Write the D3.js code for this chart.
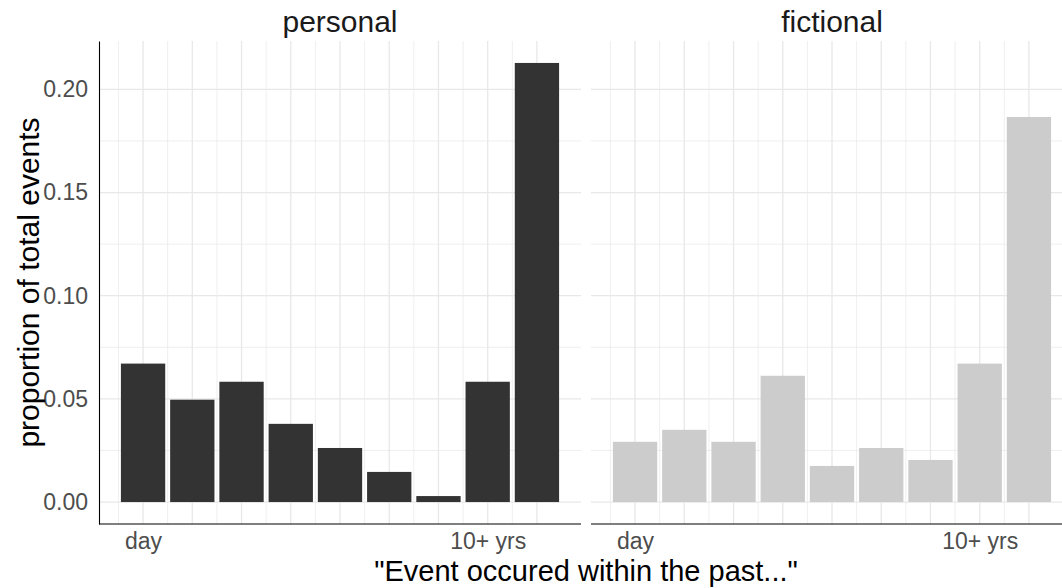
<!DOCTYPE html>
<html>
<head>
<meta charset="utf-8">
<script src="https://cdn.jsdelivr.net/npm/d3@7"></script>
<style>
  html, body { margin: 0; padding: 0; background: #ffffff; }
  svg { display: block; }
  text { font-family: "Liberation Sans", Arial, sans-serif; }
</style>
</head>
<body>
<svg id="chart" width="1062" height="588"></svg>
<script>
// ---- data ----
const categories = [1, 2, 3, 4, 5, 6, 7, 8, 9];
const panels = ["personal", "fictional"];
const personalValues = [0.0671, 0.0496, 0.0583, 0.0379, 0.0262, 0.0146, 0.0029, 0.0583, 0.2128];
const fictionalValues = [0.0292, 0.0350, 0.0292, 0.0612, 0.0175, 0.0262, 0.0204, 0.0671, 0.1866];
const xTickValues = [1, 8];
const xTickLabels = ["day", "10+ yrs"];
const yTickValues = [0, 0.05, 0.10, 0.15, 0.20];
const yMinorValues = [0.025, 0.075, 0.125, 0.175];
const xMajorGrid = [1, 2, 3, 4, 5, 6, 7, 8, 9];
const xMinorGrid = [0.5, 1.5, 2.5, 3.5, 4.5, 5.5, 6.5, 7.5, 8.5];
const seriesValues = { personal: personalValues, fictional: fictionalValues };
const barColors = { personal: "#333333", fictional: "#cccccc" };

const svg = d3.select("#chart");

// ---- layout ----
const panelTop = 41, panelBottom = 524;
const panelRanges = { personal: [99, 581], fictional: [591, 1073] };

const yMax = d3.max(personalValues.concat(fictionalValues));
const yPad = yMax * 0.05;
const y = d3.scaleLinear().domain([-yPad, yMax + yPad]).range([panelBottom, panelTop]);

const barW = 0.9;
const xPad = (categories.length - 1 + barW) * 0.05;
const xDomain = [categories[0] - barW / 2 - xPad, categories[categories.length - 1] + barW / 2 + xPad];

const fmt = d3.format(".2f");

panels.forEach(p => {
  const x = d3.scaleLinear().domain(xDomain).range(panelRanges[p]);
  const [x0, x1] = panelRanges[p];
  const g = svg.append("g");

  // grid: minor horizontal
  g.selectAll(".hmin").data(yMinorValues).enter().append("line")
    .attr("x1", x0).attr("x2", x1)
    .attr("y1", d => y(d)).attr("y2", d => y(d))
    .attr("stroke", "#ebebeb").attr("stroke-width", 0.8);
  // grid: major horizontal
  g.selectAll(".hmaj").data(yTickValues).enter().append("line")
    .attr("x1", x0).attr("x2", x1)
    .attr("y1", d => y(d)).attr("y2", d => y(d))
    .attr("stroke", "#e8e8e8").attr("stroke-width", 1.3);
  // grid: minor vertical
  g.selectAll(".vmin").data(xMinorGrid).enter().append("line")
    .attr("x1", d => x(d)).attr("x2", d => x(d))
    .attr("y1", panelTop).attr("y2", panelBottom)
    .attr("stroke", "#ebebeb").attr("stroke-width", 0.8);
  // grid: major vertical
  g.selectAll(".vmaj").data(xMajorGrid).enter().append("line")
    .attr("x1", d => x(d)).attr("x2", d => x(d))
    .attr("y1", panelTop).attr("y2", panelBottom)
    .attr("stroke", "#e8e8e8").attr("stroke-width", 1.3);

  // bars
  g.selectAll(".bar").data(categories).enter().append("rect")
    .attr("x", d => x(d - barW / 2))
    .attr("width", d => x(d + barW / 2) - x(d - barW / 2))
    .attr("y", (d, i) => y(seriesValues[p][i]))
    .attr("height", (d, i) => y(0) - y(seriesValues[p][i]))
    .attr("fill", barColors[p]);

  // x axis
  const xAxis = d3.axisBottom(x)
    .tickValues(xTickValues)
    .tickFormat((d, i) => xTickLabels[i])
    .tickSizeInner(0).tickSizeOuter(0).tickPadding(9);
  const gx = g.append("g").attr("transform", `translate(0,${panelBottom})`).call(xAxis);
  gx.select(".domain").attr("stroke", "#000").attr("stroke-width", 1.1)
    .attr("d", `M${x0},0H${Math.min(x1, 1062)}`);
  gx.selectAll("text").attr("font-size", 23).attr("fill", "#4d4d4d")
    .attr("font-family", "Liberation Sans, Arial, sans-serif");

  // strip title
  svg.append("text")
    .attr("x", (x0 + x1) / 2).attr("y", 32)
    .attr("text-anchor", "middle")
    .attr("font-size", 30).attr("fill", "#1a1a1a")
    .text(p);

  if (p === "personal") {
    const yAxis = d3.axisLeft(y)
      .tickValues(yTickValues)
      .tickFormat(fmt)
      .tickSizeInner(0).tickSizeOuter(0).tickPadding(11);
    const gy = g.append("g").attr("transform", `translate(${x0},0)`).call(yAxis);
    gy.select(".domain").attr("stroke", "#000").attr("stroke-width", 1.1);
    gy.selectAll("text").attr("font-size", 23).attr("fill", "#4d4d4d")
      .attr("font-family", "Liberation Sans, Arial, sans-serif");
  }
});

// axis titles
svg.append("text")
  .attr("x", (panelRanges.personal[0] + panelRanges.fictional[1]) / 2)
  .attr("y", 581)
  .attr("text-anchor", "middle")
  .attr("font-size", 29).attr("fill", "#000")
  .text('"Event occured within the past..."');

svg.append("text")
  .attr("transform", `translate(39,${(panelTop + panelBottom) / 2}) rotate(-90)`)
  .attr("text-anchor", "middle")
  .attr("font-size", 30).attr("fill", "#000")
  .text("proportion of total events");
</script>
</body>
</html>
